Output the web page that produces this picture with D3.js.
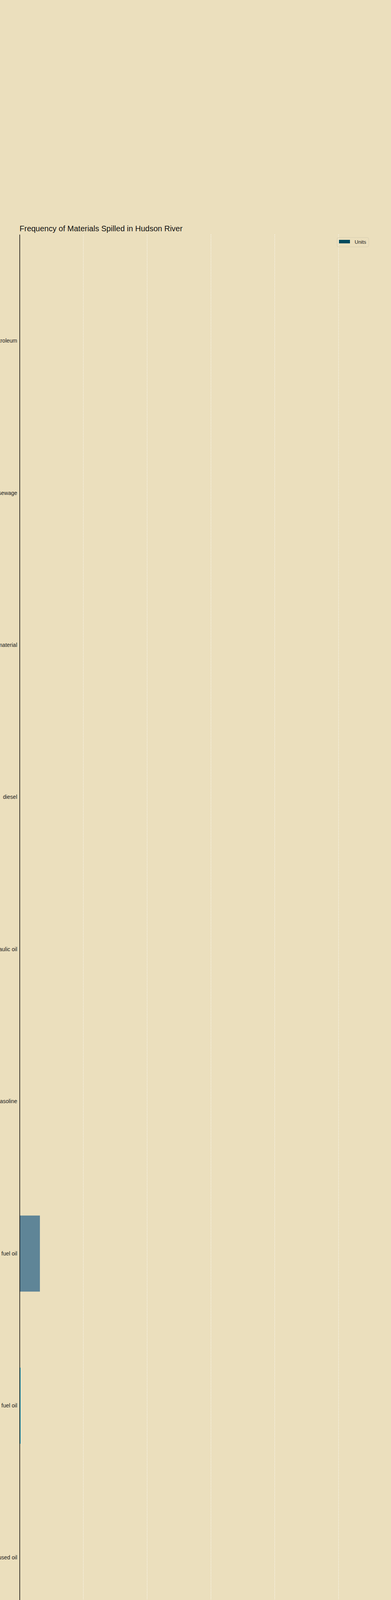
<!DOCTYPE html>
<html>
<head>
<meta charset="utf-8">
<script src="https://cdn.jsdelivr.net/npm/d3@7/dist/d3.min.js"></script>
<style>
  html, body { margin: 0; padding: 0; background: #EBDFBD; overflow: hidden; }
  body { width: 1000px; height: 5000px; font-family: "Liberation Sans", Arial, sans-serif; }
  #chart svg { display: block; }
  .grid line { stroke: #fff; stroke-dasharray: 2,2; stroke-width: 1; }
  .tick text { fill: #222; }
</style>
</head>
<body>
<div id="chart"></div>
<script>
// materials spilled, top to bottom
const materials = ["petroleum", "raw sewage", "unknown material", "diesel", "hydraulic oil",
                   "gasoline", "#2 fuel oil", "#6 fuel oil", "used oil", "wastewater"];
const units = [60, 80, 40, 90, 30, 70, 31900, 1500, 50, 34400];
const barColors = ["#004A5E", "#004A5E", "#004A5E", "#004A5E", "#004A5E",
                   "#004A5E", "#5F8597", "#00A6D6", "#004A5E", "#004A5E"];
const xMax = 551600;
const xTicks = [0, 100000, 200000, 300000, 400000, 500000];

let width = 1000, height = 5000;
let margin = ({top: 600, right: 50, bottom: 350, left: 50});
const innerW = width - margin.left - margin.right;
const innerH = height - margin.top - margin.bottom;

let svg = d3.select("#chart").append("svg")
    .attr("width", width)
    .attr("height", height)
    .style("font-family", "'Liberation Sans', Arial, sans-serif");

let g = svg.append("g").attr("transform", "translate(" + margin.left + "," + margin.top + ")");

let xScale = d3.scaleLinear().domain([0, xMax]).range([0, innerW]);
let yScale = d3.scaleBand().domain(materials).range([0, innerH])
    .paddingInner(0.5).paddingOuter(0.45);

// dotted gridlines
g.append("g").attr("class", "grid")
  .selectAll("line")
  .data(xTicks.slice(1))
  .join("line")
    .attr("x1", d => xScale(d)).attr("x2", d => xScale(d))
    .attr("y1", 0).attr("y2", innerH);

// bars
g.selectAll(".bar")
  .data(materials)
  .join("rect")
    .attr("class", "bar")
    .attr("x", 0)
    .attr("y", d => yScale(d))
    .attr("width", (d, i) => xScale(units[i]))
    .attr("height", yScale.bandwidth())
    .attr("fill", (d, i) => barColors[i]);

// x axis
let xAxis = g.append("g")
    .attr("transform", "translate(0," + innerH + ")")
    .call(d3.axisBottom(xScale).tickValues(xTicks).tickSize(0).tickFormat(d3.format("d")));
xAxis.select(".domain").attr("stroke", "#000").attr("stroke-width", 2);
xAxis.selectAll("text").attr("dy", "0.71em").attr("y", 11).attr("font-size", "14px");

// y axis
let yAxis = g.append("g")
    .call(d3.axisLeft(yScale).tickSize(0).tickPadding(6));
yAxis.select(".domain").attr("stroke", "#000").attr("stroke-width", 1.5);
yAxis.selectAll("text").attr("font-size", "14px");

// title
svg.append("text")
    .attr("x", margin.left)
    .attr("y", 592)
    .attr("font-size", "20px")
    .attr("fill", "#111")
    .text("Frequency of Materials Spilled in Hudson River");

// legend
let legend = svg.append("g").attr("transform", "translate(862,608)");
legend.append("rect")
    .attr("width", 81).attr("height", 24).attr("rx", 4)
    .attr("fill", "none").attr("stroke", "#d6ccb0").attr("stroke-width", 1);
legend.append("rect")
    .attr("x", 5).attr("y", 6).attr("width", 28).attr("height", 9)
    .attr("fill", "#004A5E");
legend.append("text")
    .attr("x", 45).attr("y", 16)
    .attr("font-size", "13px").attr("fill", "#222")
    .text("Units");
</script>
</body>
</html>
